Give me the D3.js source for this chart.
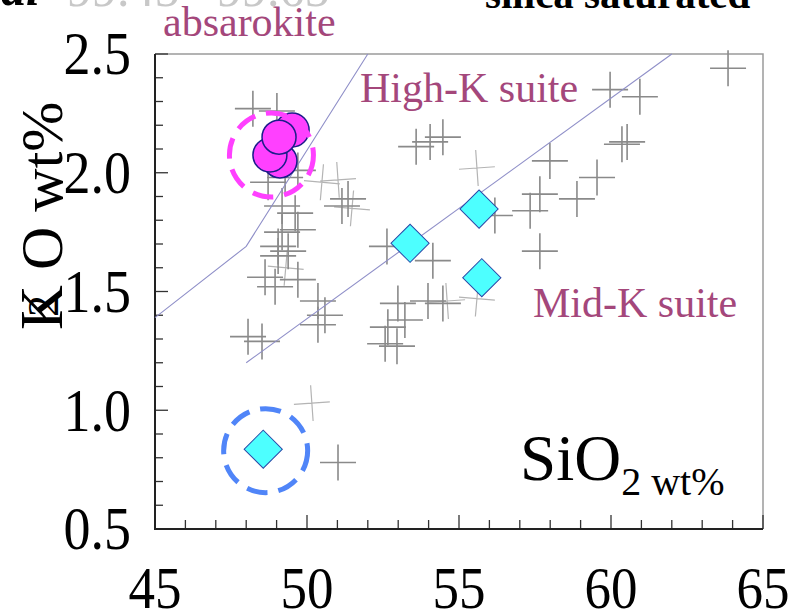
<!DOCTYPE html>
<html>
<head>
<meta charset="utf-8">
<script src="https://cdn.jsdelivr.net/npm/d3@7"></script>
<style>
  body { margin: 0; background: #fff; }
  svg { display: block; }
  text { font-family: "Liberation Serif", "Times New Roman", serif; }
</style>
</head>
<body>
<svg id="drawing_region"></svg>
<script>
// axis ticks
const xTicks = [45, 50, 55, 60, 65];
const yTicks = [0.5, 1.0, 1.5, 2.0, 2.5];

// whole-rock data (SiO2, K2O)
const crossesDark = [
  [48.22, 2.27], [49.01, 2.26], [48.72, 1.96], [49.28, 1.98], [49.70, 2.01],
  [51.35, 1.89], [49.18, 1.86], [49.61, 1.83], [49.70, 1.76], [49.18, 1.75],
  [49.05, 1.69], [49.38, 1.67], [49.05, 1.65], [48.62, 1.56], [48.95, 1.52],
  [49.70, 1.55], [50.36, 1.46], [50.59, 1.40], [50.36, 1.36], [48.06, 1.31],
  [48.52, 1.29], [51.15, 1.86], [53.59, 2.11], [54.05, 2.13], [54.47, 2.15],
  [57.99, 2.05], [59.54, 1.98], [58.88, 1.89], [57.34, 1.84], [57.66, 1.91],
  [56.18, 1.82], [52.63, 1.69], [54.14, 1.63], [57.66, 1.67], [52.99, 1.45],
  [53.22, 1.38], [52.66, 1.35], [52.96, 1.27], [52.57, 1.28], [53.98, 1.46],
  [54.47, 1.45], [59.97, 2.35], [60.95, 2.32], [60.53, 2.13], [60.36, 2.12],
  [63.85, 2.44], [51.02, 0.78]
];
const crossesLight = [
  [51.02, 1.97], [51.48, 1.85], [55.59, 2.02], [55.59, 1.47], [54.61, 1.46],
  [50.49, 1.96], [50.16, 1.03], [49.30, 1.60]
];

// absarokite samples (magenta circles) and mid-K samples (cyan diamonds)
const absarokite = [[49.51, 2.18], [49.11, 2.05], [48.78, 2.075], [49.08, 2.15]];
const midK = [[48.56, 0.836], [53.39, 1.703], [55.66, 1.847], [55.75, 1.558]];

// classification boundaries
const shoshoniteLine = [[45, 1.39], [48, 1.69], [52, 2.5]];
const highKLine = [[48, 1.2], [62, 2.5]];

// highlighted samples (dashed rings)
const ringMagenta = [48.83, 2.075];
const ringBlue = [48.64, 0.83];

const width = 803, height = 613;
const svg = d3.select('#drawing_region')
  .attr('width', width)
  .attr('height', height);

const x = d3.scaleLinear().domain([45, 65]).range([155, 763]);
const y = d3.scaleLinear().domain([0.5, 2.5]).range([529, 54]);

// frame (top and right)
svg.append('path')
  .attr('d', `M${x(45)},${y(2.5)}H${x(65)}V${y(0.5)}`)
  .attr('fill', 'none')
  .attr('stroke', '#9a9a9a')
  .attr('stroke-width', 1.5);

// minor + major ticks
const xMinor = d3.range(45, 65.01, 1);
const yMinor = d3.range(0.5, 2.501, 0.1);

svg.append('g').selectAll('line')
  .data(xMinor)
  .join('line')
  .attr('x1', d => x(d)).attr('x2', d => x(d))
  .attr('y1', y(0.5))
  .attr('y2', d => y(0.5) - (Math.abs(d % 5) < 1e-6 ? 14 : 9))
  .attr('stroke', '#333').attr('stroke-width', 1.3);

svg.append('g').selectAll('line')
  .data(yMinor)
  .join('line')
  .attr('y1', d => y(d)).attr('y2', d => y(d))
  .attr('x1', x(45))
  .attr('x2', d => x(45) + (Math.abs(Math.round(d * 10) % 5) === 0 ? 13 : 8))
  .attr('stroke', '#333').attr('stroke-width', 1.3);

// axis lines
svg.append('path')
  .attr('d', `M${x(45)},${y(2.5)}V${y(0.5)}H${x(65)}`)
  .attr('fill', 'none')
  .attr('stroke', '#222')
  .attr('stroke-width', 2);

// tick labels
svg.append('g').selectAll('text')
  .data(xTicks)
  .join('text')
  .attr('transform', d => `translate(${x(d)}, 608) scale(1, 1.1)`)
  .attr('text-anchor', 'middle')
  .attr('font-size', 53)
  .attr('fill', '#000')
  .text(d => d);

svg.append('g').selectAll('text')
  .data(yTicks)
  .join('text')
  .attr('transform', d => `translate(131, ${y(d)}) scale(1, 1.14)`)
  .attr('text-anchor', 'end')
  .attr('dy', '0.33em')
  .attr('font-size', 54)
  .attr('fill', '#000')
  .text(d => d.toFixed(1));

// crosses
const arm = 18;
const crossPath = d => {
  const px = x(d[0]), py = y(d[1]);
  return `M${px - arm},${py}H${px + arm}M${px},${py - arm}V${py + arm}`;
};

svg.append('g').selectAll('path')
  .data(crossesLight)
  .join('path')
  .attr('d', crossPath)
  .attr('transform', (d, i) => `rotate(${i % 2 ? 5 : -4}, ${x(d[0])}, ${y(d[1])})`)
  .attr('fill', 'none')
  .attr('stroke', '#b4b4b4')
  .attr('stroke-width', 1.2);

svg.append('g').selectAll('path')
  .data(crossesDark)
  .join('path')
  .attr('d', crossPath)
  .attr('fill', 'none')
  .attr('stroke', '#8a8a8a')
  .attr('stroke-width', 1.6);

// boundary lines
const line = d3.line().x(d => x(d[0])).y(d => y(d[1]));
[shoshoniteLine, highKLine].forEach(l => {
  svg.append('path')
    .attr('d', line(l))
    .attr('fill', 'none')
    .attr('stroke', '#8f8fc8')
    .attr('stroke-width', 1.1);
});

// absarokite circles
svg.append('g').selectAll('circle')
  .data(absarokite)
  .join('circle')
  .attr('cx', d => x(d[0]))
  .attr('cy', d => y(d[1]))
  .attr('r', 17)
  .attr('fill', '#ff40ff')
  .attr('stroke', '#1c1c8a')
  .attr('stroke-width', 1.5);

// mid-K diamonds
svg.append('g').selectAll('path')
  .data(midK)
  .join('path')
  .attr('d', d3.symbol().type(d3.symbolSquare).size(27 * 27))
  .attr('transform', d => `translate(${x(d[0])}, ${y(d[1])}) rotate(45)`)
  .attr('fill', '#4dffff')
  .attr('stroke', '#2a48a8')
  .attr('stroke-width', 1);

// dashed rings
svg.append('circle')
  .attr('cx', x(ringMagenta[0])).attr('cy', y(ringMagenta[1]))
  .attr('r', 42)
  .attr('fill', 'none')
  .attr('stroke', '#ff40ff')
  .attr('stroke-width', 5)
  .attr('stroke-dasharray', '21,11');

svg.append('circle')
  .attr('cx', x(ringBlue[0])).attr('cy', y(ringBlue[1]))
  .attr('r', 42)
  .attr('fill', 'none')
  .attr('stroke', '#5085f8')
  .attr('stroke-width', 5)
  .attr('stroke-dasharray', '21,11');

// suite labels
const mauve = '#a4477b';
svg.append('text').attr('x', 163).attr('y', 36)
  .attr('font-size', 42).attr('fill', mauve).text('absarokite');
svg.append('text').attr('x', 360).attr('y', 102)
  .attr('font-size', 42).attr('fill', mauve).text('High-K suite');
svg.append('text').attr('x', 533).attr('y', 317)
  .attr('font-size', 42).attr('fill', mauve).text('Mid-K suite');

// x axis title
const xt = svg.append('text').attr('x', 520).attr('y', 480).attr('fill', '#000');
xt.append('tspan').attr('font-size', 65).text('SiO');
xt.append('tspan').attr('font-size', 40).attr('dy', 15).text('2 wt%');

// y axis title (rotated)
const yt = svg.append('g').attr('transform', 'translate(62, 330) rotate(-90)');
yt.append('text').attr('x', 0).attr('y', 0).attr('font-size', 62).text('K');
yt.append('text').attr('x', 13).attr('y', -4).attr('font-size', 44).text('2');
yt.append('text').attr('x', 60).attr('y', 0).attr('font-size', 60).text('O wt%');

// cut-off header text
svg.append('text').attr('x', 40).attr('y', 5).attr('text-anchor', 'end')
  .attr('font-size', 50).attr('font-weight', 'bold').attr('font-style', 'italic')
  .attr('fill', '#000').text('al');
svg.append('text').attr('x', 67).attr('y', 6)
  .attr('font-size', 50).attr('fill', '#c8c8c8').text('99.45');
svg.append('text').attr('x', 217).attr('y', 6)
  .attr('font-size', 50).attr('fill', '#c8c8c8').text('99.65');
svg.append('text').attr('x', 485).attr('y', 8)
  .attr('font-size', 41).attr('font-weight', 'bold')
  .attr('fill', '#000').text('silica saturated');
</script>
</body>
</html>
